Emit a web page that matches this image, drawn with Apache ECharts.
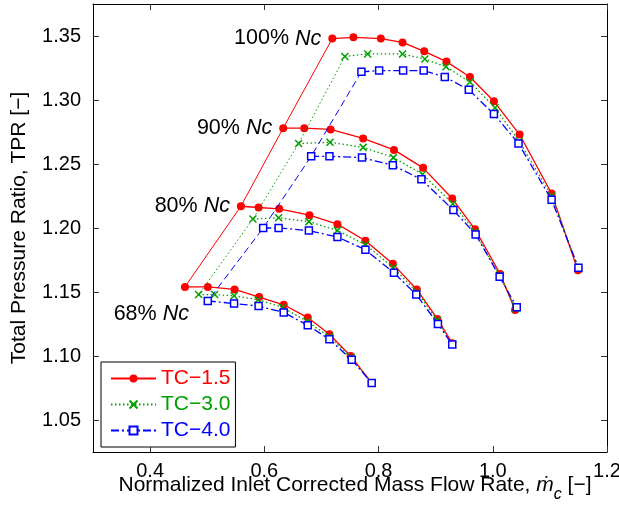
<!DOCTYPE html>
<html><head><meta charset="utf-8">
<script src="https://cdn.jsdelivr.net/npm/echarts@6/dist/echarts.min.js"></script>
<style>html,body{margin:0;padding:0;background:#fff}#c{width:619px;height:513px}</style>
</head><body><div id="c"></div>
<script>
// ---- data ----
const speedLabels = ['100%', '90%', '80%', '68%'];
const tcNames = ['TC\u22121.5', 'TC\u22123.0', 'TC\u22124.0'];
const xTicks = [0.4, 0.6, 0.8, 1.0, 1.2];
const yTicks = [1.05, 1.10, 1.15, 1.20, 1.25, 1.30, 1.35];

const tc15_100 = [[0.719,1.348],[0.756,1.349],[0.804,1.348],[0.842,1.345],[0.880,1.338],[0.919,1.330],[0.960,1.318],[1.002,1.299],[1.047,1.273],[1.103,1.227],[1.149,1.167]];
const tc15_90 = [[0.633,1.278],[0.670,1.278],[0.716,1.277],[0.773,1.270],[0.827,1.261],[0.878,1.247],[0.929,1.223],[0.969,1.199],[1.013,1.164],[1.039,1.136]];
const tc15_80 = [[0.559,1.217],[0.590,1.216],[0.626,1.215],[0.679,1.210],[0.728,1.203],[0.777,1.190],[0.825,1.172],[0.867,1.152],[0.903,1.129],[0.929,1.110]];
const tc15_68 = [[0.461,1.154],[0.501,1.154],[0.548,1.152],[0.591,1.146],[0.634,1.140],[0.676,1.130],[0.714,1.117],[0.751,1.100],[0.788,1.079]];

const tc30_100 = [[0.741,1.334],[0.781,1.336],[0.842,1.336],[0.881,1.332],[0.918,1.326],[0.960,1.314],[1.004,1.294],[1.046,1.268],[1.103,1.225],[1.150,1.168]];
const tc30_90 = [[0.660,1.266],[0.715,1.267],[0.773,1.263],[0.826,1.255],[0.877,1.242],[0.930,1.219],[0.969,1.197],[1.012,1.163],[1.040,1.137]];
const tc30_80 = [[0.580,1.207],[0.625,1.208],[0.678,1.205],[0.728,1.198],[0.777,1.187],[0.826,1.169],[0.867,1.150],[0.903,1.128],[0.930,1.109]];
const tc30_68 = [[0.485,1.148],[0.513,1.148],[0.547,1.147],[0.589,1.144],[0.632,1.138],[0.675,1.127],[0.714,1.115],[0.752,1.099],[0.788,1.079]];

const tc40_100 = [[0.770,1.322],[0.801,1.323],[0.843,1.323],[0.879,1.323],[0.916,1.318],[0.958,1.308],[1.002,1.289],[1.045,1.266],[1.103,1.222],[1.150,1.169]];
const tc40_90 = [[0.682,1.256],[0.714,1.256],[0.771,1.255],[0.825,1.249],[0.875,1.238],[0.931,1.214],[0.970,1.195],[1.012,1.162],[1.042,1.138]];
const tc40_80 = [[0.598,1.200],[0.625,1.200],[0.678,1.198],[0.728,1.193],[0.777,1.183],[0.827,1.165],[0.866,1.148],[0.904,1.125],[0.929,1.109]];
const tc40_68 = [[0.501,1.143],[0.547,1.141],[0.590,1.139],[0.634,1.134],[0.676,1.124],[0.714,1.113],[0.753,1.097],[0.788,1.079]];

// ---- styling ----
const FONT = '"Liberation Sans", Arial, Helvetica, sans-serif';
const colors = ['#ff0000', '#00a000', '#0000ff'];
const lineTypes = ['solid', [1.5, 2.5], [8, 3, 2, 3]];
const surgeTypes = ['solid', [1.5, 2.5], [7, 4]];
const curves = [
  [tc15_100, tc15_90, tc15_80, tc15_68],
  [tc30_100, tc30_90, tc30_80, tc30_68],
  [tc40_100, tc40_90, tc40_80, tc40_68]
];
const symbolDefs = [
  { symbol: 'circle', symbolSize: 8, itemStyle: { color: '#ff0000', borderWidth: 0 } },
  { symbol: 'path://M0,0L10,10M10,0L0,10', symbolSize: 7, itemStyle: { color: '#00a000', borderColor: '#00a000', borderWidth: 1.5 } },
  { symbol: 'rect', symbolSize: 7, itemStyle: { color: '#ffffff', borderColor: '#0000ff', borderWidth: 1.5 } }
];

const series = [];
curves.forEach((set, t) => {
  series.push({
    type: 'line', name: 'surge' + t, data: set.map(d => d[0]), symbol: 'none',
    lineStyle: { color: colors[t], width: 1, type: surgeTypes[t] }, z: 2 + t * 2, silent: true
  });
  set.forEach(d => {
    series.push(Object.assign({
      type: 'line', name: tcNames[t], data: d, showAllSymbol: true,
      lineStyle: { color: colors[t], width: 1.3, type: lineTypes[t] }, z: 3 + t * 2, silent: true
    }, JSON.parse(JSON.stringify(symbolDefs[t]))));
  });
});

// speed annotations anchored on the first TC-1.5 point of each speed line
series.push({
  type: 'scatter', name: 'speeds', symbolSize: 0, silent: true, z: 20,
  itemStyle: { opacity: 1, color: '#000' },
  data: curves[0].map((d, i) => ({
    value: d[0], name: speedLabels[i],
    label: i === 3 ? { offset: [15, 27] } : {}
  })),
  label: {
    show: true, position: 'left', distance: 11, color: '#000', opacity: 1,
    formatter: p => '{a|' + p.name + ' }{b|Nc}',
    rich: {
      a: { fontSize: 21.5, fontFamily: FONT, color: '#000' },
      b: { fontSize: 21.5, fontFamily: FONT, color: '#000', fontStyle: 'italic' }
    }
  }
});

const axisCommon = {
  type: 'value',
  axisLine: { show: true, onZero: false, lineStyle: { color: '#000', width: 1 } },
  splitLine: { show: false }
};

const option = {
  animation: false,
  backgroundColor: '#fff',
  grid: { left: 93, right: 12, top: 4, bottom: 61, containLabel: false, outerBoundsMode: 'none' },
  legend: {
    data: tcNames.map((n, i) => ({ name: n, textStyle: { color: colors[i] } })),
    left: 101, top: 362, orient: 'vertical',
    itemWidth: 45, itemHeight: 10, itemGap: 5,
    padding: [6, 5, 6, 9],
    borderColor: '#000', borderWidth: 1, backgroundColor: '#fff',
    textStyle: { fontSize: 21, fontFamily: FONT, lineHeight: 20 },
    selectedMode: false
  },
  xAxis: [
    Object.assign({}, axisCommon, {
      min: 0.3, max: 1.2, position: 'bottom',
      axisTick: { inside: true, length: 6, customValues: xTicks, lineStyle: { color: '#333' } },
      axisLabel: { customValues: xTicks, formatter: v => v.toFixed(1), margin: 9, fontSize: 20, fontFamily: FONT, color: '#000' },
      name: 'Normalized Inlet Corrected Mass Flow Rate, {m|\u1E41}{c|c} [\u2212]',
      nameLocation: 'middle', nameGap: 15, nameMoveOverlap: false,
      nameTextStyle: {
        fontSize: 21, fontFamily: FONT, color: '#000', padding: [0, 0, 0, 10],
        rich: {
          m: { fontSize: 21, fontFamily: FONT, fontStyle: 'italic', color: '#000' },
          c: { fontSize: 16, fontFamily: FONT, fontStyle: 'italic', color: '#000', padding: [20, 0, 0, 0] }
        }
      }
    }),
    Object.assign({}, axisCommon, {
      min: 0.3, max: 1.2, position: 'top',
      axisTick: { inside: true, length: 6, customValues: xTicks, lineStyle: { color: '#333' } },
      axisLabel: { show: false }
    })
  ],
  yAxis: [
    Object.assign({}, axisCommon, {
      min: 1.025, max: 1.375, position: 'left',
      axisTick: { inside: true, length: 6, customValues: yTicks, lineStyle: { color: '#333' } },
      axisLabel: { customValues: yTicks, formatter: v => v.toFixed(2), margin: 12, fontSize: 20, fontFamily: FONT, color: '#000' },
      name: 'Total Pressure Ratio, TPR [\u2212]',
      nameLocation: 'middle', nameGap: 63, nameRotate: 90,
      nameTextStyle: { fontSize: 21, fontFamily: FONT, color: '#000' }
    }),
    Object.assign({}, axisCommon, {
      min: 1.025, max: 1.375, position: 'right',
      axisTick: { inside: true, length: 6, customValues: yTicks, lineStyle: { color: '#333' } },
      axisLabel: { show: false }
    })
  ],
  series: series
};

const chart = echarts.init(document.getElementById('c'), null, { renderer: 'canvas' });
chart.setOption(option);
</script>
</body></html>
